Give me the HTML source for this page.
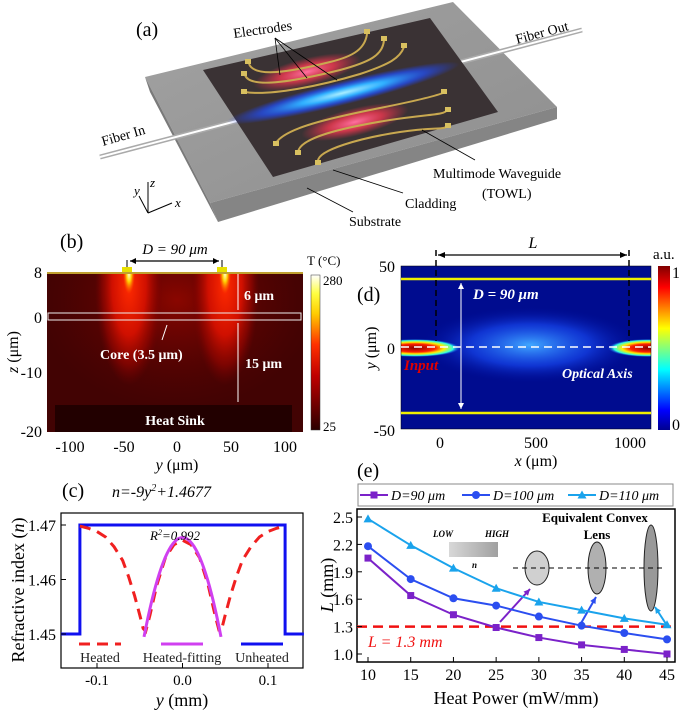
<!DOCTYPE html>
<html><head><meta charset="utf-8">
<style>
html,body{margin:0;padding:0;background:#fff;}
svg{display:block;font-family:"Liberation Serif",serif;}
</style></head>
<body>
<svg id="fig" width="685" height="712" viewBox="0 0 685 712" xmlns="http://www.w3.org/2000/svg">
<defs>
  <linearGradient id="slabTop" x1="0" y1="0" x2="1" y2="1"><stop offset="0" stop-color="#a2a2a2"/><stop offset="1" stop-color="#8e8e8e"/></linearGradient>
  <radialGradient id="redGlow"><stop offset="0" stop-color="#ff70a0"/><stop offset="0.5" stop-color="#f03850" stop-opacity="0.8"/><stop offset="1" stop-color="#e8304a" stop-opacity="0"/></radialGradient>
  <radialGradient id="blueGlow"><stop offset="0" stop-color="#aef"/><stop offset="0.35" stop-color="#30b0ff"/><stop offset="0.7" stop-color="#2050ff" stop-opacity="0.7"/><stop offset="1" stop-color="#2040ff" stop-opacity="0"/></radialGradient>
  <linearGradient id="hotbar" x1="0" y1="1" x2="0" y2="0"><stop offset="0" stop-color="#2a0000"/><stop offset="0.35" stop-color="#c00000"/><stop offset="0.55" stop-color="#ff3000"/><stop offset="0.75" stop-color="#ffcc00"/><stop offset="0.88" stop-color="#ffff40"/><stop offset="1" stop-color="#ffffff"/></linearGradient>
  <linearGradient id="jet" x1="0" y1="1" x2="0" y2="0"><stop offset="0" stop-color="#00008f"/><stop offset="0.12" stop-color="#0000ff"/><stop offset="0.37" stop-color="#00ffff"/><stop offset="0.62" stop-color="#ffff00"/><stop offset="0.87" stop-color="#ff0000"/><stop offset="1" stop-color="#800000"/></linearGradient>
  <radialGradient id="heatCol"><stop offset="0" stop-color="#ff2a00"/><stop offset="0.5" stop-color="#d01000"/><stop offset="0.8" stop-color="#900500" stop-opacity="0.7"/><stop offset="1" stop-color="#700000" stop-opacity="0"/></radialGradient>
  <radialGradient id="heatWide"><stop offset="0" stop-color="#8a0600"/><stop offset="1" stop-color="#5a0202" stop-opacity="0"/></radialGradient>
  <radialGradient id="heatTip"><stop offset="0" stop-color="#ffffd0"/><stop offset="0.4" stop-color="#ffd000"/><stop offset="1" stop-color="#ff5000" stop-opacity="0"/></radialGradient>
  <radialGradient id="dBlue"><stop offset="0" stop-color="#40a8ff"/><stop offset="0.55" stop-color="#1a50ff" stop-opacity="0.6"/><stop offset="1" stop-color="#0010a0" stop-opacity="0"/></radialGradient>
  <radialGradient id="dSpot"><stop offset="0" stop-color="#8a0000"/><stop offset="0.45" stop-color="#ff2000"/><stop offset="0.65" stop-color="#ffee00"/><stop offset="0.85" stop-color="#30ffe0"/><stop offset="1" stop-color="#1050ff" stop-opacity="0"/></radialGradient>
  <linearGradient id="nGrad" x1="0" x2="1"><stop offset="0" stop-color="#d8d8d8"/><stop offset="1" stop-color="#a0a0a0"/></linearGradient>
  <clipPath id="clipB"><rect x="47" y="273" width="256" height="159"/></clipPath>
  <clipPath id="clipD"><rect x="401" y="266" width="250" height="163"/></clipPath>
</defs>

<!-- Panel (a) -->
<g>
  <polygon points="145,77 453,2 557,107 210,203" fill="url(#slabTop)"/>
  <polygon points="145,77 210,203 218,222 150,92" fill="#7a7a7a"/>
  <polygon points="210,203 557,107 557,119 218,222" fill="#858585"/>
  <line x1="100" y1="157" x2="582" y2="30" stroke="#aaa" stroke-width="5"/>
  <line x1="100" y1="157" x2="582" y2="30" stroke="#fff" stroke-width="2"/>
  <polygon points="203,70 430,18 498,112 273,177" fill="#3a3234"/>
  <ellipse cx="307" cy="72" rx="55" ry="14" transform="rotate(-14 307 72)" fill="url(#redGlow)"/>
  <ellipse cx="355" cy="122" rx="55" ry="14" transform="rotate(-14 355 122)" fill="url(#redGlow)"/>
  <ellipse cx="343" cy="93" rx="120" ry="12" transform="rotate(-14 343 93)" fill="url(#blueGlow)"/>
  <g fill="none" stroke="#c8a850" stroke-width="2">
    <path d="M249,64 C255,78 290,72 330,62 C355,56 365,48 367,34"/>
    <path d="M245,75 C250,90 300,80 340,70 C370,62 383,55 384,40"/>
    <path d="M245,92 C270,96 320,86 360,74 C390,64 400,58 404,47"/>
    <path d="M276,143 C285,128 330,118 380,108 C420,100 435,96 443,93"/>
    <path d="M298,152 C300,138 340,128 390,120 C430,114 445,115 447,110"/>
    <path d="M318,161 C318,150 360,138 400,132 C435,127 445,130 447,126"/>
  </g>
  <g fill="#d8c060">
    <rect x="245" y="59" width="6" height="5"/><rect x="241" y="71" width="6" height="5"/><rect x="241" y="89" width="6" height="5"/>
    <rect x="364" y="29" width="6" height="5"/><rect x="381" y="36" width="6" height="5"/><rect x="401" y="43" width="6" height="5"/>
    <rect x="273" y="141" width="6" height="5"/><rect x="295" y="150" width="6" height="5"/><rect x="315" y="160" width="6" height="5"/>
    <rect x="441" y="89" width="6" height="5"/><rect x="445" y="107" width="6" height="5"/><rect x="445" y="123" width="6" height="5"/>
  </g>
  <g stroke="#000" stroke-width="0.8">
    <line x1="275" y1="38" x2="280" y2="75"/><line x1="275" y1="38" x2="307" y2="78"/><line x1="275" y1="38" x2="337" y2="80"/>
    <line x1="422" y1="130" x2="475" y2="160"/><line x1="333" y1="170" x2="403" y2="193"/><line x1="307" y1="188" x2="353" y2="212"/>
  </g>
  <text x="136" y="36" font-size="20">(a)</text>
  <text x="234" y="38" font-size="14" transform="rotate(-8 234 38)">Electrodes</text>
  <text x="517" y="44" font-size="14" transform="rotate(-15 517 44)">Fiber Out</text>
  <text x="103" y="146" font-size="14" transform="rotate(-16 103 146)">Fiber In</text>
  <text x="433" y="178" font-size="14">Multimode Waveguide</text>
  <text x="482" y="198" font-size="14">(TOWL)</text>
  <text x="405" y="208" font-size="14">Cladding</text>
  <text x="349" y="226" font-size="14">Substrate</text>
  <g stroke="#000" stroke-width="1" fill="none">
    <line x1="148" y1="213" x2="148" y2="182"/><line x1="148" y1="213" x2="172" y2="203"/><line x1="148" y1="213" x2="139" y2="196"/>
  </g>
  <text x="134" y="195" font-size="13" font-style="italic">y</text>
  <text x="150" y="187" font-size="13" font-style="italic">z</text>
  <text x="175" y="207" font-size="13" font-style="italic">x</text>
</g>

<!-- Panel (b) -->
<g>
  <rect x="47" y="273" width="256" height="159" fill="#420303"/>
  <g clip-path="url(#clipB)">
    <ellipse cx="177" cy="300" rx="140" ry="110" fill="url(#heatWide)"/>
    <ellipse cx="129" cy="285" rx="34" ry="100" fill="url(#heatCol)"/>
    <ellipse cx="225" cy="285" rx="34" ry="100" fill="url(#heatCol)"/>
    <ellipse cx="129" cy="274" rx="6" ry="20" fill="url(#heatTip)"/>
    <ellipse cx="225" cy="274" rx="6" ry="20" fill="url(#heatTip)"/>
  </g>
  <rect x="55" y="405" width="237" height="27" fill="#220000"/>
  <text x="175" y="425" font-size="14" font-weight="bold" fill="#fff" text-anchor="middle">Heat Sink</text>
  <rect x="48" y="313" width="253" height="7" fill="none" stroke="#eee" stroke-width="1"/>
  <rect x="47" y="272" width="256" height="2" fill="#c0a030"/>
  <rect x="122" y="267" width="10" height="5" fill="#e8e000"/>
  <rect x="217" y="267" width="10" height="5" fill="#e8e000"/>
  <line x1="127" y1="260" x2="127" y2="267" stroke="#000"/><line x1="222" y1="260" x2="222" y2="267" stroke="#000"/>
  <line x1="130" y1="261" x2="219" y2="261" stroke="#000" stroke-width="1.2"/>
  <path d="M130,261 l6,-3 v6z M219,261 l-6,-3 v6z" fill="#000"/>
  <text x="175" y="254" font-size="15" font-style="italic" text-anchor="middle">D = 90 μm</text>
  <text x="60" y="248" font-size="20">(b)</text>
  <g stroke="#fff" stroke-width="1"><line x1="238" y1="274" x2="238" y2="310"/><line x1="238" y1="323" x2="238" y2="402"/><line x1="167" y1="325" x2="162" y2="340"/></g>
  <text x="244" y="300" font-size="14" font-weight="bold" fill="#fff">6 μm</text>
  <text x="245" y="368" font-size="14" font-weight="bold" fill="#fff">15 μm</text>
  <text x="100" y="359" font-size="14" font-weight="bold" fill="#fff">Core  (3.5 μm)</text>
  <g font-size="16" text-anchor="end">
    <text x="42" y="278">8</text><text x="42" y="323">0</text><text x="42" y="378">-10</text><text x="42" y="437">-20</text>
  </g>
  <g font-size="16" text-anchor="middle">
    <text x="70" y="452">-100</text><text x="124" y="452">-50</text><text x="177" y="452">0</text><text x="231" y="452">50</text><text x="285" y="452">100</text>
  </g>
  <text x="177" y="470" font-size="16" text-anchor="middle"><tspan font-style="italic">y</tspan> (μm)</text>
  <text transform="translate(18,352) rotate(-90)" font-size="16" text-anchor="middle"><tspan font-style="italic">z</tspan> (μm)</text>
  <rect x="311" y="275" width="9" height="155" fill="url(#hotbar)" stroke="#333" stroke-width="0.5"/>
  <text x="307" y="265" font-size="13">T (°C)</text>
  <text x="323" y="285" font-size="13">280</text><text x="323" y="431" font-size="13">25</text>
</g>

<!-- Panel (d) -->
<g>
  <rect x="401" y="266" width="250" height="163" fill="#000c8f"/>
  <g clip-path="url(#clipD)">
    <ellipse cx="530" cy="345" rx="110" ry="38" fill="url(#dBlue)"/>
    <ellipse cx="415" cy="348" rx="45" ry="9" fill="url(#dSpot)"/>
    <ellipse cx="648" cy="348" rx="40" ry="9" fill="url(#dSpot)"/>
  </g>
  <rect x="401" y="266" width="250" height="163" fill="none" stroke="#000" stroke-width="0.5"/>
  <line x1="401" y1="279" x2="651" y2="279" stroke="#f0f000" stroke-width="2.5"/>
  <line x1="401" y1="413" x2="651" y2="413" stroke="#f0f000" stroke-width="2.5"/>
  <line x1="401" y1="347" x2="651" y2="347" stroke="#fff" stroke-width="1.5" stroke-dasharray="8,5"/>
  <line x1="436" y1="250" x2="436" y2="341" stroke="#000" stroke-width="1.5" stroke-dasharray="6,4"/>
  <line x1="629" y1="250" x2="629" y2="341" stroke="#000" stroke-width="1.5" stroke-dasharray="6,4"/>
  <line x1="438" y1="255" x2="627" y2="255" stroke="#000" stroke-width="1.2"/>
  <path d="M438,255 l7,-3 v6z M627,255 l-7,-3 v6z" fill="#000"/>
  <text x="533" y="248" font-size="16" font-style="italic" text-anchor="middle">L</text>
  <line x1="461" y1="283" x2="461" y2="409" stroke="#fff" stroke-width="1"/>
  <path d="M461,283 l-3,6 h6z M461,409 l-3,-6 h6z" fill="#fff"/>
  <text x="473" y="299" font-size="15" font-weight="bold" font-style="italic" fill="#fff">D = 90 μm</text>
  <text x="404" y="370" font-size="15" font-weight="bold" font-style="italic" fill="#e00000">Input</text>
  <text x="562" y="378" font-size="14" font-weight="bold" font-style="italic" fill="#fff">Optical Axis</text>
  <text x="357" y="301" font-size="20">(d)</text>
  <g font-size="16" text-anchor="end">
    <text x="395" y="272">50</text><text x="395" y="354">0</text><text x="395" y="436">-50</text>
  </g>
  <g font-size="16" text-anchor="middle">
    <text x="440" y="448">0</text><text x="536" y="448">500</text><text x="630" y="448">1000</text>
  </g>
  <text x="536" y="466" font-size="16" text-anchor="middle"><tspan font-style="italic">x</tspan> (μm)</text>
  <text transform="translate(376,348) rotate(-90)" font-size="16" text-anchor="middle"><tspan font-style="italic">y</tspan> (μm)</text>
  <rect x="658" y="266" width="12" height="164" fill="url(#jet)"/>
  <text x="653" y="259" font-size="15">a.u.</text>
  <text x="672" y="278" font-size="16">1</text><text x="672" y="430" font-size="16">0</text>
</g>

<g id="panelC"></g>
<g id="panelE"></g>
</svg>

<script>
// Panel (c) data
const cUnheatedY = [-0.142, -0.12, -0.12, 0.12, 0.12, 0.142];
const cUnheatedN = [1.450, 1.450, 1.470, 1.470, 1.450, 1.450];
const cHeatedY = [-0.12, -0.11, -0.1, -0.09, -0.08, -0.07, -0.063, -0.056, -0.05, -0.046, -0.043, -0.038, -0.03, -0.02, -0.01, 0, 0.01, 0.02, 0.03, 0.038, 0.043, 0.046, 0.05, 0.056, 0.063, 0.07, 0.08, 0.09, 0.1, 0.11, 0.12];
const cHeatedN = [1.4698, 1.4694, 1.4688, 1.4678, 1.4660, 1.4635, 1.4605, 1.4570, 1.4535, 1.4510, 1.4505, 1.4535, 1.4590, 1.4640, 1.4664, 1.4672, 1.4664, 1.4640, 1.4590, 1.4535, 1.4505, 1.4510, 1.4535, 1.4570, 1.4605, 1.4635, 1.4660, 1.4678, 1.4688, 1.4694, 1.4698];
const cFitA = -9, cFitB = 1.4677, cFitRange = [-0.045, 0.045];
const cYTicks = [1.45, 1.46, 1.47];
const cXTicks = [-0.1, 0.0, 0.1];
const cXTickLabels = ["-0.1", "0.0", "0.1"];

// Panel (e) data
const ePower = [10, 15, 20, 25, 30, 35, 40, 45];
const eD90 = [2.05, 1.64, 1.43, 1.29, 1.18, 1.10, 1.05, 1.00];
const eD100 = [2.18, 1.82, 1.61, 1.53, 1.41, 1.31, 1.23, 1.16];
const eD110 = [2.48, 2.19, 1.94, 1.72, 1.57, 1.48, 1.39, 1.32];
const eThreshold = 1.3;
const eYTicks = [1.0, 1.3, 1.6, 1.9, 2.2, 2.5];
const eXTicks = [10, 15, 20, 25, 30, 35, 40, 45];

const NS = "http://www.w3.org/2000/svg";
function mk(parent, tag, attrs, text) {
  const el = document.createElementNS(NS, tag);
  for (const k in attrs) el.setAttribute(k, attrs[k]);
  if (text !== undefined) el.textContent = text;
  parent.appendChild(el);
  return el;
}

// ---- Panel (c)
(function () {
  const g = document.getElementById('panelC');
  const L = 61, R = 303, T = 513, B = 668;
  const xs = v => 182.5 + v * 855;
  const ys = n => 634 - (n - 1.45) * 5450;
  const title = mk(g, 'text', {x: 62, y: 497, 'font-size': 20}, '(c)');
  
  
  const eq = mk(g, 'text', {x: 112, y: 497, 'font-size': 16, 'font-style': 'italic'});
  eq.innerHTML = 'n=-9y<tspan font-size="10" dy="-6">2</tspan><tspan dy="6">+1.4677</tspan>';
  
  
  const frame = mk(g, 'rect', {x: L, y: T, width: R - L, height: B - T, fill: 'none', stroke: '#000', 'stroke-width': 1.2});
  
  
  let d = cUnheatedY.map((y, i) => (i ? 'L' : 'M') + xs(y) + ',' + ys(cUnheatedN[i])).join(' ');
  const pu = mk(g, 'path', {d: d, fill: 'none', stroke: '#1010f0', 'stroke-width': 3});
  
  
  d = cHeatedY.map((y, i) => (i ? 'L' : 'M') + xs(y) + ',' + ys(cHeatedN[i])).join(' ');
  const ph = mk(g, 'path', {d: d, fill: 'none', stroke: '#f02020', 'stroke-width': 3, 'stroke-dasharray': '11,7'});
  
  
  const pts = [];
  for (let i = 0; i <= 40; i++) { const y = cFitRange[0] + (cFitRange[1] - cFitRange[0]) * i / 40; pts.push(xs(y) + ',' + ys(cFitA * y * y + cFitB)); }
  const pf = mk(g, 'polyline', {points: pts.join(' '), fill: 'none', stroke: '#d040f0', 'stroke-width': 3});
  
  
  const r2 = mk(g, 'text', {x: 150, y: 540, 'font-size': 13, 'font-style': 'italic'});
  r2.innerHTML = 'R<tspan font-size="8" dy="-5">2</tspan><tspan dy="5">=0.992</tspan>';
  
  
  cYTicks.forEach(v => {
    mk(g, 'line', {x1: L, x2: L + 5, y1: ys(v), y2: ys(v), stroke: '#000'});
    const t = mk(g, 'text', {x: L - 5, y: ys(v) + 6, 'font-size': 16, 'text-anchor': 'end'}, v.toFixed(2));
    
    
  });
  cXTicks.forEach((v, i) => {
    mk(g, 'line', {x1: xs(v), x2: xs(v), y1: B, y2: B - 5, stroke: '#000'});
    const t = mk(g, 'text', {x: xs(v), y: B + 17, 'font-size': 15, 'text-anchor': 'middle'}, cXTickLabels[i]);
    
    
  });
  const xl = mk(g, 'text', {x: 182, y: 706, 'font-size': 18, 'text-anchor': 'middle'});
  xl.innerHTML = '<tspan font-style="italic">y</tspan> (mm)';
  
  
  const yl = mk(g, 'text', {transform: 'translate(24,590) rotate(-90)', 'font-size': 18, 'text-anchor': 'middle'});
  yl.innerHTML = 'Refractive index (<tspan font-style="italic">n</tspan>)';
  
  
  const leg = [['Heated', '#f02020', '11,7', 100], ['Heated-fitting', '#d040f0', '', 182], ['Unheated', '#1010f0', '', 262]];
  leg.forEach(l => {
    const line = mk(g, 'line', {x1: l[3] - 21, x2: l[3] + 21, y1: 644, y2: 644, stroke: l[1], 'stroke-width': 3});
    if (l[2]) line.setAttribute('stroke-dasharray', l[2]);
    
    
    const t = mk(g, 'text', {x: l[3], y: 662, 'font-size': 14, 'text-anchor': 'middle', fill: '#222'}, l[0]);
    
    
  });
})();

// ---- Panel (e)
(function () {
  const g = document.getElementById('panelE');
  const L = 357, R = 675, T = 509, B = 662;
  const xs = v => 368 + (v - 10) * (299 / 35);
  const ys = v => 654 - (v - 1.0) * (137 / 1.5);
  const lab = mk(g, 'text', {x: 357, y: 477, 'font-size': 20}, '(e)');
  
  
  const frame = mk(g, 'rect', {x: L, y: T, width: R - L, height: B - T, fill: 'none', stroke: '#000', 'stroke-width': 1.5});
  
  
  mk(g, 'text', {x: 433, y: 537, 'font-size': 9, 'font-weight': 'bold', 'font-style': 'italic'}, 'LOW');
  mk(g, 'text', {x: 485, y: 537, 'font-size': 9, 'font-weight': 'bold', 'font-style': 'italic'}, 'HIGH');
  const gb = mk(g, 'rect', {x: 449, y: 542, width: 49, height: 15, fill: 'url(#nGrad)'});
  
  
  mk(g, 'text', {x: 472, y: 568, 'font-size': 9, 'font-weight': 'bold', 'font-style': 'italic'}, 'n');
  mk(g, 'text', {x: 595, y: 522, 'font-size': 13, 'font-weight': 'bold', 'text-anchor': 'middle'}, 'Equivalent Convex');
  mk(g, 'text', {x: 597, y: 539, 'font-size': 13, 'font-weight': 'bold', 'text-anchor': 'middle'}, 'Lens');
  const lenses = [[537, 12, 17, '#d0d0d0'], [597, 9, 26, '#b0b0b0'], [651, 7, 43, '#999']];
  lenses.forEach(l => {
    const e = mk(g, 'ellipse', {cx: l[0], cy: 568, rx: l[1], ry: l[2], fill: l[3], stroke: '#222', 'stroke-width': 1});
    
    
  });
  mk(g, 'line', {x1: 513, x2: 662, y1: 568, y2: 568, stroke: '#000', 'stroke-dasharray': '5,4'});
  const th = mk(g, 'line', {x1: L, x2: R, y1: ys(eThreshold), y2: ys(eThreshold), stroke: '#f01010', 'stroke-width': 2.5, 'stroke-dasharray': '10,6'});
  
  
  const tl = mk(g, 'text', {x: 368, y: 647, 'font-size': 16, 'font-style': 'italic', fill: '#f01010'}, 'L = 1.3 mm');
  
  
  const arrows = [['#7b22c9', 500, 622, 530, 589], ['#2b4ef0', 580, 625, 596, 597], ['#1aa3ec', 668, 627, 655, 607]];
  arrows.forEach(a => {
    mk(g, 'line', {x1: a[1], y1: a[2], x2: a[3], y2: a[4], stroke: a[0], 'stroke-width': 2});
    const ang = Math.atan2(a[4] - a[2], a[3] - a[1]);
    const p1 = [a[3] - 7 * Math.cos(ang - 0.45), a[4] - 7 * Math.sin(ang - 0.45)];
    const p2 = [a[3] - 7 * Math.cos(ang + 0.45), a[4] - 7 * Math.sin(ang + 0.45)];
    mk(g, 'polygon', {points: a[3] + ',' + a[4] + ' ' + p1.join(',') + ' ' + p2.join(','), fill: a[0]});
  });
  const series = [['D=90 μm', eD90, '#7b22c9', 'sq'], ['D=100 μm', eD100, '#2b4ef0', 'ci'], ['D=110 μm', eD110, '#1aa3ec', 'tr']];
  function marker(px, py, type, color) {
    if (type === 'sq') return mk(g, 'rect', {x: px - 3.5, y: py - 3.5, width: 7, height: 7, fill: color});
    if (type === 'ci') return mk(g, 'circle', {cx: px, cy: py, r: 4, fill: color});
    return mk(g, 'polygon', {points: px + ',' + (py - 4.5) + ' ' + (px - 4.5) + ',' + (py + 3.5) + ' ' + (px + 4.5) + ',' + (py + 3.5), fill: color});
  }
  series.forEach(s => {
    const pl = mk(g, 'polyline', {points: ePower.map((p, i) => xs(p) + ',' + ys(s[1][i])).join(' '), fill: 'none', stroke: s[2], 'stroke-width': 2});
    
    
    ePower.forEach((p, i) => {
      const m = marker(xs(p), ys(s[1][i]), s[3], s[2]);
      
      
    });
  });
  eYTicks.forEach(v => {
    mk(g, 'line', {x1: L, x2: L + 5, y1: ys(v), y2: ys(v), stroke: '#000'});
    const t = mk(g, 'text', {x: L - 4, y: ys(v) + 6, 'font-size': 16, 'text-anchor': 'end'}, v.toFixed(1));
    
    
  });
  eXTicks.forEach(v => {
    mk(g, 'line', {x1: xs(v), x2: xs(v), y1: B, y2: B - 5, stroke: '#000'});
    const t = mk(g, 'text', {x: xs(v), y: B + 18, 'font-size': 16, 'text-anchor': 'middle'}, String(v));
    
    
  });
  const xl = mk(g, 'text', {x: 516, y: 704, 'font-size': 18, 'text-anchor': 'middle'}, 'Heat Power (mW/mm)');
  
  
  const yl = mk(g, 'text', {transform: 'translate(333,585) rotate(-90)', 'font-size': 18, 'text-anchor': 'middle'});
  yl.innerHTML = '<tspan font-style="italic">L</tspan> (mm)';
  
  
  const lb = mk(g, 'rect', {x: 358, y: 484, width: 315, height: 22, fill: '#fff', stroke: '#888'});
  
  
  const lx = [360, 462, 568];
  series.forEach((s, i) => {
    mk(g, 'line', {x1: lx[i], x2: lx[i] + 28, y1: 495, y2: 495, stroke: s[2], 'stroke-width': 2});
    marker(lx[i] + 14, 495, s[3], s[2]);
    const t = mk(g, 'text', {x: lx[i] + 31, y: 500, 'font-size': 14, 'font-style': 'italic'}, s[0]);
    
    
  });
})();
</script>
</body></html>
